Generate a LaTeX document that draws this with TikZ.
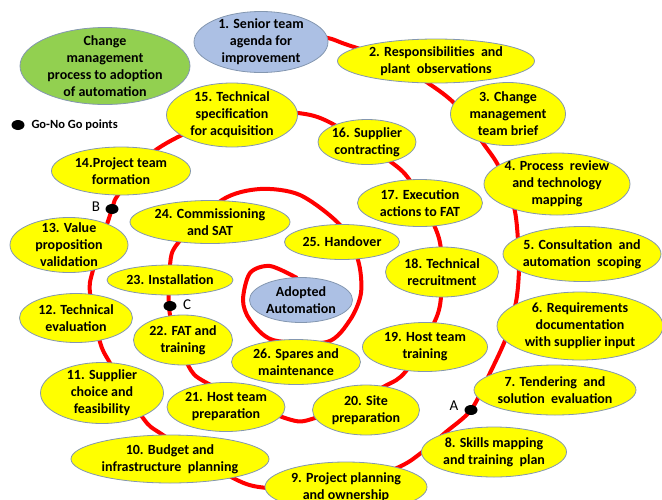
\documentclass[tikz,border=0pt]{standalone}
\usepackage{fontspec}
\setmainfont{Carlito}
\usetikzlibrary{shapes.geometric}

\definecolor{stageyellow}{RGB}{255,255,0}
\definecolor{rimblue}{RGB}{132,151,176}
\definecolor{goalblue}{RGB}{172,192,228}
\definecolor{titlegreen}{RGB}{146,208,80}

\begin{document}
\begin{tikzpicture}[x=1pt,y=-1pt,
  stage/.style={ellipse,draw=rimblue,line width=0.8pt,fill=stageyellow,
    inner xsep=-20pt,inner ysep=-10pt,align=center,
    font=\fontsize{14}{17}\selectfont\bfseries},
  goal/.style={stage,fill=goalblue},
  sz/.style 2 args={minimum width=#1,minimum height=#2},
  gate/.style={ellipse,fill=black,inner sep=0pt,minimum width=13pt,minimum height=10pt},
  gatelbl/.style={font=\fontsize{15}{18}\selectfont},
  spiral/.style={red,line width=4pt}]
\useasboundingbox (0,0) rectangle (662,499);

% the red spiral, drawn first so the stages sit on it
\draw[spiral] plot[smooth] coordinates {(305,36) (328,38) (345,44) (390,60)
  (428,83) (456,105) (483,143) (499,167) (514,207) (518,240) (519,270)
  (516,302) (506,338) (489,375) (471,410) (446,432) (421,453) (399,467)
  (340,490) (267,488) (233,478) (163,435) (143,418) (110,363) (100,342)
  (90,293) (93,270) (112,209) (118,195) (147,157) (182,135) (240,112)
  (298,113) (331,123) (391,162) (411,182) (434,225) (441,250) (441,297)
  (434,323) (406,371) (383,387) (315,418) (285,418) (207,383) (188,365)
  (170,315) (170,265) (178,243) (222,200) (260,189) (300,195) (340,225)
  (358,260) (361,293) (350,320) (327,342) (273,340) (250,320) (243,300)
  (250,273) (270,266) (297,278)};

\node[stage,fill=titlegreen,sz={170pt}{77pt}] (title) at (105,66)
  {Change\\management\\process to adoption\\of automation};
\node[gate] (key) at (18,125) {};
\node[anchor=west,font=\fontsize{12.5}{15}\selectfont\bfseries] (keytext) at (28,125) {Go-No Go points};

\node[goal,sz={134pt}{61pt}] (s1) at (261,42) {1. Senior team\\agenda for\\improvement};
\node[stage,sz={197pt}{44pt}] (s2) at (436,61) {2. Responsibilities~ and\\plant~ observations};
\node[stage,sz={115pt}{63pt}] (s3) at (508,114) {3. Change\\management\\team brief};
\node[stage,sz={146pt}{62pt}] (s4) at (557,184) {4. Process~ review\\and technology\\mapping};
\node[stage,sz={158pt}{55pt}] (s5) at (582,254) {5. Consultation~ and\\automation~ scoping};
\node[stage,sz={166pt}{68pt}] (s6) at (580,326) {6. Requirements\\documentation\\with supplier input};
\node[stage,sz={162pt}{50pt}] (s7) at (555,390) {7. Tendering~ and\\solution~ evaluation};
\node[stage,sz={145pt}{50pt}] (s8) at (494,452) {8. Skills mapping\\and training~ plan};
\node[stage,sz={162pt}{50pt}] (s9) at (346,487) {9. Project planning\\and ownership};
\node[stage,sz={198pt}{48pt}] (s10) at (170,459) {10. Budget and\\infrastructure~ planning};
\node[stage,sz={123pt}{61pt}] (s11) at (102,393) {11. Supplier\\choice and\\feasibility};
\node[stage,sz={113pt}{49pt}] (s12) at (76,318) {12. Technical\\evaluation};
\node[stage,sz={118pt}{55pt}] (s13) at (69,245) {13. Value\\proposition\\validation};
\node[stage,sz={139pt}{48pt}] (s14) at (121,171) {14.Project team\\formation};
\node[stage,sz={131pt}{64pt}] (s15) at (232,115) {15. Technical\\specification\\for acquisition};
\node[stage,sz={98pt}{45pt}] (s16) at (367,142) {16. Supplier\\contracting};
\node[stage,sz={125pt}{47pt}] (s17) at (420,203) {17. Execution\\actions to FAT};
\node[stage,sz={113pt}{50pt}] (s18) at (442,272) {18. Technical\\recruitment};
\node[stage,sz={125pt}{49pt}] (s19) at (425,347) {19. Host team\\training};
\node[stage,sz={107pt}{50pt}] (s20) at (366,410) {20. Site\\preparation};
\node[stage,sz={118pt}{49pt}] (s21) at (226,407) {21. Host team\\preparation};
\node[stage,sz={99pt}{50pt}] (s22) at (183,340) {22. FAT and\\training};
\node[stage,sz={126pt}{30pt}] (s23) at (170,280) {23. Installation};
\node[stage,sz={160pt}{43pt}] (s24) at (210,222) {24. Commissioning\\and SAT};
\node[stage,sz={115pt}{35pt}] (s25) at (342,242) {25. Handover};
\node[stage,sz={129pt}{45pt}] (s26) at (296,362) {26. Spares and\\maintenance};
\node[goal,sz={103pt}{45pt}] (done) at (301,300) {Adopted\\Automation};

% go-no go points
\node[gate] (gA) at (471,410) {};
\node[gate] (gB) at (112,209) {};
\node[gate] (gC) at (170,306) {};
\node[gatelbl] (lA) at (454,406) {A};
\node[gatelbl] (lB) at (96,207) {B};
\node[gatelbl] (lC) at (187,305) {C};
\end{tikzpicture}
\end{document}
